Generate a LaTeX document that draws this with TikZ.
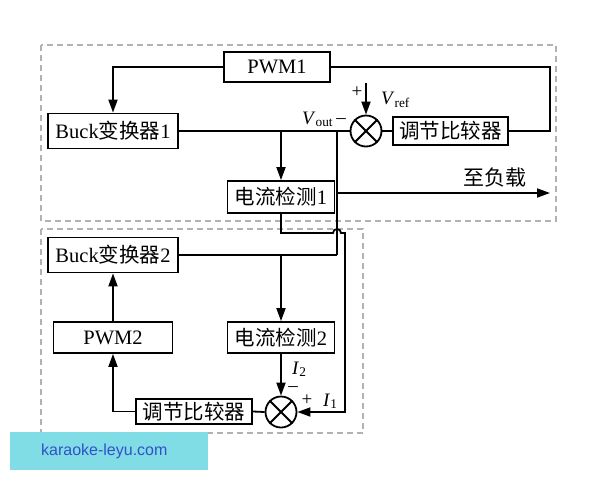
\documentclass[tikz,border=0pt]{standalone}
\usepackage{fontspec}
\setmainfont{Liberation Serif}
\newfontfamily\cjk{Noto Sans CJK SC}
\newfontfamily\wmfont{Liberation Sans}
\usetikzlibrary{arrows.meta}
\begin{document}
\begin{tikzpicture}[x=1pt,y=-1pt,
  blk/.style={draw,line width=1.8pt,inner sep=0pt,fill=white,font=\fontsize{20.5}{23}\selectfont},
  sumj/.style={draw,circle,line width=1.8pt,minimum size=31pt,inner sep=0pt},
  wire/.style={line width=1.8pt},
  arr/.style={wire,-{Triangle[length=13pt,width=9pt]}},
  grp/.style={draw=gray!60,line width=1.2pt,dash pattern=on 6pt off 4pt},
  lbl/.style={font=\fontsize{19}{21}\selectfont,inner sep=0pt}]
\useasboundingbox (0,0) rectangle (600,480);
\fill[white] (0,0) rectangle (600,480);
% group frames
\draw[grp] (41,45) rectangle (556,221);
\draw[grp] (41,229) rectangle (363,433);
% blocks
\node[blk,minimum width=106pt,minimum height=30pt] (pwm1) at (277,67) {PWM1};
\node[blk,minimum width=130pt,minimum height=35pt] (buck1) at (113,131) {Buck{\cjk 变换器}1};
\node[blk,minimum width=115pt,minimum height=28pt] (cmp1) at (450.5,131) {\cjk 调节比较器};
\node[blk,minimum width=107pt,minimum height=32pt] (det1) at (281,197) {{\cjk 电流检测}1};
\node[sumj] (j1) at (366,131) {};
\draw[wire] (j1.north west) -- (j1.south east) (j1.north east) -- (j1.south west);
\node[blk,minimum width=130pt,minimum height=35pt] (buck2) at (113,255) {Buck{\cjk 变换器}2};
\node[blk,minimum width=119pt,minimum height=31pt] (pwm2) at (113,337.5) {PWM2};
\node[blk,minimum width=107pt,minimum height=31pt] (det2) at (281,337.5) {{\cjk 电流检测}2};
\node[blk,minimum width=116pt,minimum height=25pt] (cmp2) at (194,411.5) {\cjk 调节比较器};
\node[sumj] (j2) at (281,412) {};
\draw[wire] (j2.north west) -- (j2.south east) (j2.north east) -- (j2.south west);
% coordinates
\coordinate (b1) at (281,131);
\coordinate (v1) at (337,131);
\coordinate (v2) at (337,255);
\coordinate (vl) at (337,193);
\coordinate (load) at (550,193);
\coordinate (b2) at (281,255);
\coordinate (fr) at (550,131);
\coordinate (vref) at (366,83);
% wires
\draw[wire] (buck1.east) -- (j1.west);
\draw[arr] (b1) -- (det1.north);
\draw[wire] (v1) -- (v2);
\draw[arr] (vl) -- (load);
\draw[wire] (j1.east) -- (cmp1.west);
\draw[wire] (cmp1.east) -- (fr) |- (pwm1.east);
\draw[arr] (pwm1.west) -| (buck1.north);
\draw[arr] (vref) -- (j1.north);
\draw[wire] (buck2.east) -- (v2);
\draw[arr] (b2) -- (det2.north);
\draw[arr] (det1.south) |- (333,233) arc[start angle=180,end angle=360,radius=4] -- (345,233) |- (j2.east);
\draw[arr] (det2.south) -- (j2.north);
\draw[wire] (j2.west) -- (cmp2.east);
\draw[arr] (cmp2.west) -| (pwm2.south);
\draw[arr] (pwm2.north) -- (buck2.south);
% labels
\node[lbl,anchor=base east] (lvout) at (346,124) {\textit{V}\textsubscript{out}\,\raisebox{1pt}{--}};
\node[lbl] (lp1) at (357,92) {+};
\node[lbl,anchor=base west] (lvref) at (381,104) {\textit{V}\textsubscript{ref}};
\node[font=\fontsize{21}{23}\selectfont\cjk,inner sep=0pt] (lload) at (495,178) {至负载};
\node[lbl,anchor=base west] (li2) at (292,374) {\textit{I}\textsubscript{2}};
\node[lbl] (lm2) at (293,389) {--};
\node[lbl] (lp2) at (307,400) {+};
\node[lbl,anchor=base west] (li1) at (323,406) {\textit{I}\textsubscript{1}};
% watermark
\fill[fill={rgb,255:red,128;green,221;blue,230}] (10,432) rectangle (208,470);
\node[font=\fontsize{16}{18}\selectfont\wmfont,text={rgb,255:red,50;green,80;blue,200},anchor=west,inner sep=0pt] (wm) at (41,451) {karaoke-leyu.com};
\end{tikzpicture}
\end{document}
